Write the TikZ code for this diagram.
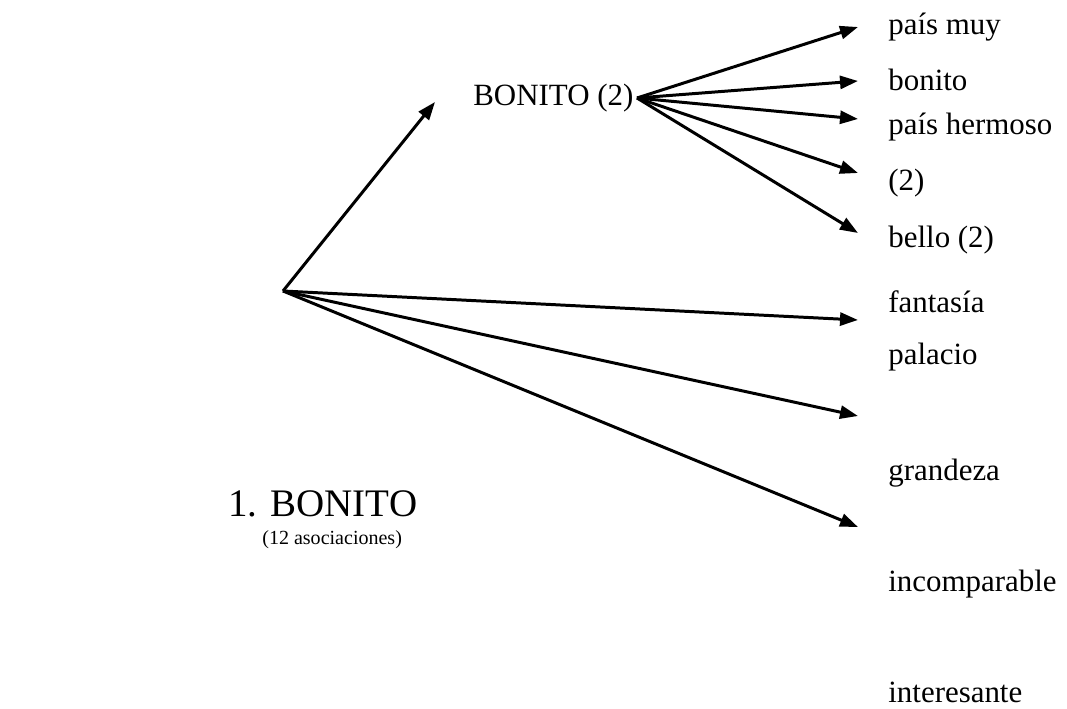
\documentclass[tikz,border=0pt]{standalone}
\usepackage{fontspec}
\setmainfont{Liberation Serif}
\usetikzlibrary{arrows.meta}
\tikzset{
  assoc/.style={-{Triangle[length=0.36cm, width=0.26cm]}, line width=1.7pt},
  word/.style={anchor=west, inner sep=0pt, font=\rmfamily\fontsize{17.6}{20}\selectfont}
}

\begin{document}
\begin{tikzpicture}[x=0.02cm, y=-0.02cm]
        \useasboundingbox (0,0) rectangle (1067,709);
        % main word and fork
        \node[word, font=\rmfamily\fontsize{22.2}{26}\selectfont] (title) at (228,504) {1. BONITO};
        \node[word, font=\rmfamily\fontsize{11.4}{14}\selectfont] (count) at (262,540) {(12 asociaciones)};
        \coordinate (root) at (283,291);
        \node[word] (sub) at (473,98) {BONITO (2)};
        \coordinate (subfork) at (637,98);
        \coordinate (subtip) at (435,102);
        % right column
        \node[word] (w1) at (888,27)  {país muy};
        \node[word] (w2) at (888,80)  {bonito};
        \node[word] (w3) at (888,127) {país hermoso};
        \node[word] (w4) at (888,183) {(2)};
        \node[word] (w5) at (888,240) {bello (2)};
        \node[word] (w6) at (888,302) {fantasía};
        \node[word] (w7) at (888,357) {palacio};
        \node[word] (w8) at (888,473) {grandeza};
        \node[word] (w9) at (888,584) {incomparable};
        \node[word] (w10) at (888,692) {interesante};
        % arrow tips
        \coordinate (t1) at (858,27);
        \coordinate (t2) at (858,81);
        \coordinate (t3) at (858,119);
        \coordinate (t4) at (858,173);
        \coordinate (t5) at (858,233);
        \coordinate (t6) at (858,320);
        \coordinate (t7) at (858,416);
        \coordinate (t8) at (858,527);
        % connectors
        \draw[assoc] (root) -- (subtip);
        \draw[assoc] (subfork) -- (t1);
        \draw[assoc] (subfork) -- (t2);
        \draw[assoc] (subfork) -- (t3);
        \draw[assoc] (subfork) -- (t4);
        \draw[assoc] (subfork) -- (t5);
        \draw[assoc] (root) -- (t6);
        \draw[assoc] (root) -- (t7);
        \draw[assoc] (root) -- (t8);
\end{tikzpicture}
\end{document}
